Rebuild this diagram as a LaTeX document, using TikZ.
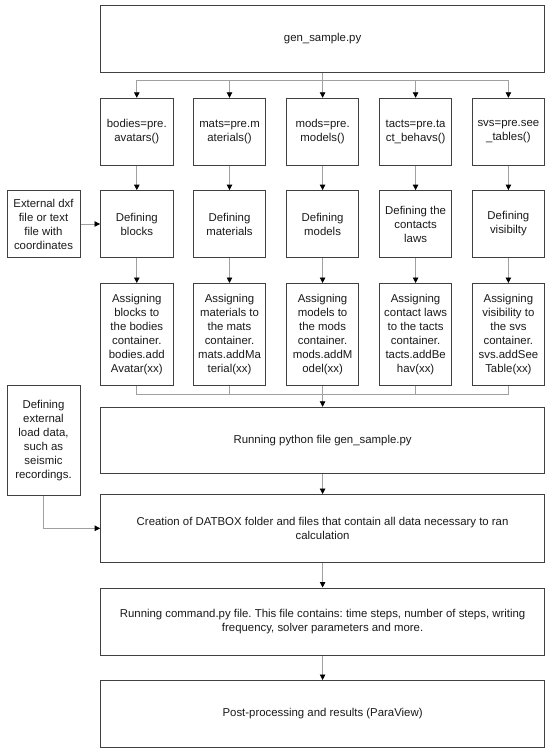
\documentclass[tikz,border=0pt]{standalone}
\usepackage{fontspec}
\setmainfont{Liberation Sans}
\usetikzlibrary{arrows.meta}
\definecolor{boxc}{HTML}{404040}
\definecolor{linec}{HTML}{A0A0A0}
\definecolor{txtc}{HTML}{1A1A1A}
\frenchspacing
\begin{document}
\begin{tikzpicture}[x=1pt,y=-1pt,
  box/.style={draw=boxc, line width=1pt, fill=white, align=center, inner sep=0pt,
    text=txtc, font=\fontsize{11.4}{14}\selectfont},
  small/.style={box, minimum width=72.5pt, minimum height=66.8pt},
  wide/.style={box, minimum width=443.8pt, minimum height=67pt},
  tall/.style={box, minimum width=72.5pt, minimum height=102.2pt},
  line/.style={draw=linec, line width=0.8pt},
  conn/.style={line, -{Triangle[width=5.5pt,length=5.5pt,black]}}
]
\useasboundingbox (0,0) rectangle (550,754);

% top
\node[wide, minimum height=66.6pt] (gen) at (322.6,39) {gen\_sample.py};

% row 1
\node[small] (a1) at (136.8,131.7) {bodies=pre.\\avatars()};
\node[small] (a2) at (229.5,131.7) {mats=pre.m\\aterials()};
\node[small] (a3) at (322.6,131.7) {mods=pre.\\models()};
\node[small] (a4) at (415.6,131.7) {tacts=pre.ta\\ct\_behavs()};
\node[small] (a5) at (508.4,131.7) {svs=pre.see\\\_tables()};

% row 2
\node[small] (b1) at (136.8,224) {Defining\\blocks};
\node[small] (b2) at (229.5,224) {Defining\\materials};
\node[small] (b3) at (322.6,224) {Defining\\models};
\node[small] (b4) at (415.6,224) {Defining the\\contacts\\laws};
\node[small] (b5) at (508.4,224) {Defining\\visibilty};

% row 3
\node[tall] (c1) at (136.8,334.6) {Assigning\\blocks to\\the bodies\\container.\\bodies.add\\Avatar(xx)};
\node[tall] (c2) at (229.5,334.6) {Assigning\\materials to\\the mats\\container.\\mats.addMa\\terial(xx)};
\node[tall] (c3) at (322.6,334.6) {Assigning\\models to\\the mods\\container.\\mods.addM\\odel(xx)};
\node[tall] (c4) at (415.6,334.6) {Assigning\\contact laws\\to the tacts\\container.\\tacts.addBe\\hav(xx)};
\node[tall] (c5) at (508.4,334.6) {Assigning\\visibility to\\the svs\\container.\\svs.addSee\\Table(xx)};

% left boxes
\node[small, minimum width=73pt, minimum height=67.4pt] (ext) at (43.5,224) {External dxf\\file or text\\file with\\coordinates};
\node[small, minimum width=73pt, minimum height=110.7pt] (load) at (43.5,440.4) {Defining\\external\\load data,\\such as\\seismic\\recordings.};

% lower column
\node[wide, minimum height=66.2pt] (runpy) at (322.6,440.4) {Running python file gen\_sample.py};
\node[wide, minimum height=67.5pt] (create) at (322.6,528.3) {Creation of DATBOX folder and files that contain all data necessary to ran\\calculation};
\node[wide] (runcmd) at (322.6,621.5) {Running command.py file. This file contains: time steps, number of steps, writing\\frequency, solver parameters and more.};
\node[wide] (post) at (322.6,714) {Post-processing and results (ParaView)};

% connectors: top branch
\coordinate (split) at (322.6,80.7);
\draw[line] (gen.south) -- (split);
\foreach \n in {a1,a2,a3,a4,a5}{
  \draw[conn] (split) -| (\n.north);
}
% rows
\foreach \i in {1,...,5}{
  \draw[conn] (a\i.south) -- (b\i.north);
  \draw[conn] (b\i.south) -- (c\i.north);
}
\draw[conn] (ext.east) -- (b1.west);

% merge
\coordinate (merge) at (322.6,394);
\foreach \n in {c1,c2,c4,c5}{
  \draw[line] (\n.south) |- (merge);
}
\draw[conn] (c3.south) -- (runpy.north);

\draw[conn] (runpy.south) -- (create.north);
\draw[conn] (create.south) -- (runcmd.north);
\draw[conn] (runcmd.south) -- (post.north);
\draw[conn] (load.south) |- (create.west);
\end{tikzpicture}
\end{document}
